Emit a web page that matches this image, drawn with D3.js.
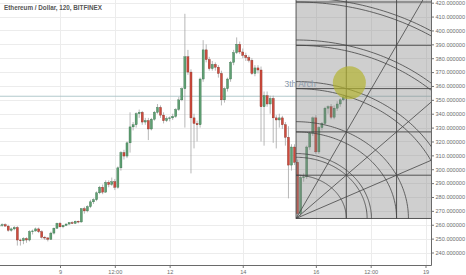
<!DOCTYPE html>
<html lang="en">
<head>
<meta charset="UTF-8">
<title>Ethereum / Dollar, 120, BITFINEX</title>
<style>
  body { margin: 0; background: #fff; }
  svg { display: block; font-family: "Liberation Sans", Arial, sans-serif; }
  .axis .tick text { fill: #6e6e6e; font-size: 5.6px; }
  .axis .tick line { stroke: #777; }
</style>
</head>
<body>
<div id="chart"></div>
<script src="https://d3js.org/d3.v7.min.js"></script>
<script>
// 2h candles, first one at 2017-06-07 08:00 UTC
const firstCandle = "2017-06-07T08:00:00Z";
const opens = [259,259.5,260,259,256,257,258,249,248.5,250,249,255,255.5,257,255,251,250.5,249.5,254,257.5,
  261,258.5,259.5,260.5,261.5,261,262.5,262,271.5,270,273,276.5,278,283,287,283.5,290.5,289,291,287,
  301,312,309.5,319,330.5,332,340,341,334,335,329,336,341,344.5,339,335,336.5,337,338,343,
  350,358,381,370,337,333,332,365,386,379,372.5,375.5,373.5,369,350,358,365,377,384,390,
  384.5,382,380.5,378.5,369,373,371.5,345,353,347,351,337,335.5,337,332,323,303,316,305,268,
  294,294.5,316,326,337,312.5,330,333,344,345,337.5,344,347,350,352];
const highs = [260,261,261,260,258,259,259,250,251,251,256,256.5,258,258,256,252,251,255,258,261.5,
  262,260,261,262,262.5,263,263,272,273,274,278,279,284,288,289,292,292,294,293,302,
  313,314,320,341,334,341,343,342,337,337,337,342,347,346,341,338,338,340,344,352,
  359,412,386,372,340,335,366,393,390,381,378,377,375,371,359,366,378,386,395,392,
  387,384,382,380,375,375,374,356,356,353,353,339,340,338.5,334,331,318,318,307,296,
  297,317,327,338,339,331,334,345,346,347,346,349,351,353.5,353];
const lows = [258,258.5,259,255,255,256,245,245,246,247,248,253,255,254,250,249,248,249,253,257,
  258,257.5,259,260,260.5,260.5,261,261.5,268,269,272,275,277,282,282,283,287,288,285,286,
  299,307,308,312,328,330,337,332,332,321,328,335,340,337,333,334,334.5,335.5,337,342,
  349,330,368,297,315,320,330,363,377,371,371,371,366,346,348,356,363,375,383,383,
  380,378,377,368,367,369,320,317,345,340,319,315,330,329,317,279,299,303,264.5,266,
  291,293,314,324,311,311,328,332,340,336,336,342,345,349,350.5];
const closes = [259.5,260,259,256,257,258,249,248.5,250,249,255,255.5,257,255,251,250.5,249.5,254,257.5,261,
  258.5,259.5,260.5,261.5,261,262.5,262,271.5,270,273,276.5,278,283,287,283.5,290.5,289,291,287,301,
  312,309.5,319,330.5,332,340,341,334,335,329,336,341,344.5,339,335,336.5,337,338,343,350,
  358,381,370,337,333,332,365,386,379,372.5,375.5,373.5,369,350,358,365,377,384,390,384.5,
  382,380.5,378.5,369,373,371.5,345,353,347,351,337,335.5,337,332,323,303,316,305,268,294,
  294.5,316,326,337,312.5,330,333,344,345,337.5,344,347,350,352,352.5];

// axis ticks
const priceTicks = [240,250,260,270,280,290,300,310,320,330,340,350,360,370,380,390,400,410,420];
const timeTicks = ["2017-06-09T00:00:00Z","2017-06-10T12:00:00Z","2017-06-12T00:00:00Z","2017-06-14T00:00:00Z",
  "2017-06-16T00:00:00Z","2017-06-17T12:00:00Z","2017-06-19T00:00:00Z"];
const timeLabels = ["9","12:00","12","14","16","12:00","19"];

// drawings on the chart
const hLinePrice = 352.6;
const gannStart = "2017-06-15T11:00:00Z";   // bottom-left corner of the Gann square
const gannPrice = 264.5;
const gannHours = 33;     // one time unit of the square
const gannStep = 31.2;    // one price unit of the square
const gannFans = [[1,1],[2,1],[1,2]];
const gannArcs = [1, Math.SQRT2, 1.5, 2, Math.sqrt(5), 3, Math.sqrt(10), 4, Math.sqrt(17), 5, Math.sqrt(26)];
const arcLabel = "3th Arch";
const arcLabelPrice = 359.5;
const circleTime = "2017-06-16T22:00:00Z";
const circlePrice = 362.3;

const W = 466, H = 275;
const plotRight = 431.5, plotBottom = 265;

const svg = d3.select("#chart").append("svg")
  .attr("width", W)
  .attr("height", H);

const x = d3.scaleUtc()
  .domain([new Date("2017-06-09T00:00:00Z"), new Date("2017-06-19T00:00:00Z")])
  .range([60, 425.5]);

const y = d3.scaleLinear()
  .domain([240, 420])
  .range([252.5, 2.7]);

const t0 = new Date(firstCandle).getTime();
const candles = opens.map((o, i) => ({
  t: new Date(t0 + i * 2 * 3600e3), o: o, h: highs[i], l: lows[i], c: closes[i]
}));

svg.append("defs").append("clipPath").attr("id", "plot")
  .append("rect").attr("x", 0).attr("y", 0).attr("width", plotRight).attr("height", plotBottom);

// grid
const grid = svg.append("g").attr("clip-path", "url(#plot)");
grid.selectAll(".hg").data(priceTicks).enter().append("line")
  .attr("x1", 0).attr("x2", plotRight)
  .attr("y1", d => Math.round(y(d)) + 0.5).attr("y2", d => Math.round(y(d)) + 0.5)
  .attr("stroke", "#ececec");
grid.selectAll(".vg").data(timeTicks).enter().append("line")
  .attr("x1", d => Math.round(x(new Date(d))) + 0.5).attr("x2", d => Math.round(x(new Date(d))) + 0.5)
  .attr("y1", 0).attr("y2", plotBottom)
  .attr("stroke", "#ececec");

// horizontal line drawing
grid.append("line")
  .attr("x1", 0).attr("x2", plotRight)
  .attr("y1", y(hLinePrice)).attr("y2", y(hLinePrice))
  .attr("stroke", "#a9c3c6").attr("stroke-width", 0.9);

// candles
const cg = svg.append("g").attr("clip-path", "url(#plot)");
const step = x(new Date(t0 + 2 * 3600e3)) - x(new Date(t0));
const bw = step * 0.68;

cg.selectAll(".wick").data(candles).enter().append("line")
  .attr("x1", d => x(d.t)).attr("x2", d => x(d.t))
  .attr("y1", d => y(d.h)).attr("y2", d => y(d.l))
  .attr("stroke", "#a4a4a4").attr("stroke-width", 0.8);

cg.selectAll(".body").data(candles).enter().append("rect")
  .attr("x", d => x(d.t) - bw / 2)
  .attr("width", bw)
  .attr("y", d => y(Math.max(d.o, d.c)))
  .attr("height", d => Math.max(0.8, Math.abs(y(d.o) - y(d.c))))
  .attr("fill", d => d.c >= d.o ? "#5f9f72" : "#cf4b3d")
  .attr("stroke", d => d.c >= d.o ? "#2f6b45" : "#7a2a20")
  .attr("stroke-width", 0.35);

// Gann square
const gx0 = x(new Date(gannStart));
const gy0 = y(gannPrice);
const ux = x(new Date(new Date(gannStart).getTime() + gannHours * 3600e3)) - gx0;
const uy = gy0 - y(gannPrice + gannStep);

const gann = svg.append("g").attr("clip-path", "url(#plot)");
gann.append("rect")
  .attr("x", gx0).attr("y", gy0 - 6 * uy)
  .attr("width", 4 * ux).attr("height", 6 * uy)
  .attr("fill", "#808080").attr("fill-opacity", 0.38);

const lineCol = "#454545";
[0, 1, 2, 3].forEach(k => {
  gann.append("line")
    .attr("x1", gx0 + k * ux).attr("x2", gx0 + k * ux)
    .attr("y1", gy0).attr("y2", gy0 - 6 * uy)
    .attr("stroke", lineCol).attr("stroke-width", 0.9);
});
[0, 1, 2, 3, 4, 5].forEach(k => {
  gann.append("line")
    .attr("x1", gx0).attr("x2", gx0 + 4 * ux)
    .attr("y1", gy0 - k * uy).attr("y2", gy0 - k * uy)
    .attr("stroke", lineCol).attr("stroke-width", 0.9);
});
gannFans.forEach(f => {
  gann.append("line")
    .attr("x1", gx0).attr("y1", gy0)
    .attr("x2", gx0 + f[0] * ux * 6).attr("y2", gy0 - f[1] * uy * 6)
    .attr("stroke", lineCol).attr("stroke-width", 0.8);
});
gannArcs.forEach(r => {
  const pts = d3.range(0, 91).map(a => {
    const rad = a * Math.PI / 180;
    return [gx0 + r * ux * Math.cos(rad), gy0 - r * uy * Math.sin(rad)];
  });
  gann.append("path")
    .attr("d", d3.line()(pts))
    .attr("fill", "none")
    .attr("stroke", lineCol).attr("stroke-width", 0.8);
});

// highlight circle and label
svg.append("circle")
  .attr("cx", x(new Date(circleTime))).attr("cy", y(circlePrice))
  .attr("r", 16.5)
  .attr("fill", "#b3b22c").attr("fill-opacity", 0.68);

svg.append("text")
  .attr("x", gx0 + 4).attr("y", y(arcLabelPrice))
  .attr("text-anchor", "middle")
  .attr("font-size", 8.5)
  .attr("fill", "#8797aa")
  .text(arcLabel);

// axes
const xAxis = svg.append("g").attr("class", "axis")
  .attr("transform", `translate(0,${plotBottom})`)
  .call(d3.axisBottom(x)
    .tickValues(timeTicks.map(d => new Date(d)))
    .tickFormat((d, i) => timeLabels[i])
    .tickSize(3).tickPadding(2));
xAxis.select(".domain").remove();

const yAxis = svg.append("g").attr("class", "axis")
  .attr("transform", `translate(${plotRight},0)`)
  .call(d3.axisRight(y)
    .tickValues(priceTicks)
    .tickFormat(d3.format(".6f"))
    .tickSize(2.5).tickPadding(1.5));
yAxis.select(".domain").remove();

svg.append("line")
  .attr("x1", 0).attr("x2", plotRight)
  .attr("y1", plotBottom + 0.5).attr("y2", plotBottom + 0.5)
  .attr("stroke", "#6a6a6a");
svg.append("line")
  .attr("x1", plotRight).attr("x2", plotRight)
  .attr("y1", 0).attr("y2", plotBottom + 0.5)
  .attr("stroke", "#6a6a6a");

// title
svg.append("text")
  .attr("x", 4).attr("y", 9.5)
  .attr("font-size", 6.3)
  .attr("font-weight", "bold")
  .attr("fill", "#555")
  .text("Ethereum / Dollar, 120, BITFINEX");
</script>
</body>
</html>
